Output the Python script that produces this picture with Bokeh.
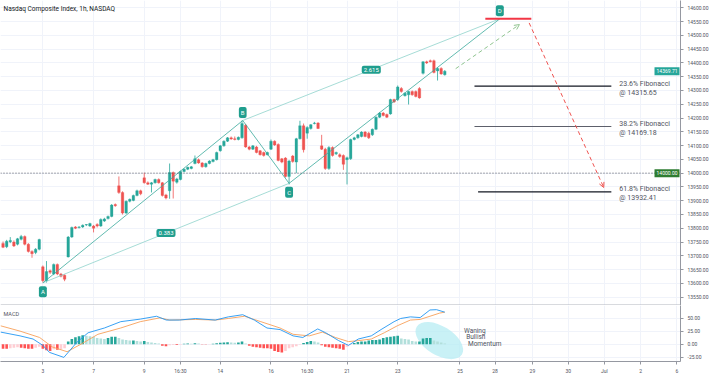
from bokeh.plotting import figure
from bokeh.layouts import column
from bokeh.models import (Range1d, FixedTicker, PrintfTickFormatter, Span, Label,
                          Arrow, OpenHead)
from bokeh.embed import file_html
from bokeh.resources import INLINE

# ---------------- data ----------------
first_bar = -11  # bar index of first visible hourly candle (0 = 3 Jun, 09:30)
opens = [13745, 13733, 13751, 13750, 13742, 13760, 13770, 13742, 13716, 13712, 13724,
         13660, 13610, 13646, 13634, 13669, 13634, 13630,
         13696, 13768, 13805, 13803, 13805, 13812, 13808,
         13808, 13814, 13808, 13826, 13835, 13843, 13886,
         13954, 13930, 13855, 13898, 13901, 13919, 13936,
         13983, 13965, 13960, 13965, 13977, 13965, 13921,
         13936, 14002, 13967, 13977, 14006, 14014, 14017,
         14035, 14049, 14037, 14023, 14035, 14042, 14049,
         14081, 14099, 14116, 14128, 14125, 14122, 14128,
         14174, 14095, 14087, 14095, 14081, 14075, 14067,
         14087, 14116, 14104, 14052, 14055, 13988, 14062,
         14040, 14125, 14172, 14145, 14162, 14180, 14182,
         14099, 14087, 14017, 14093, 14070, 14067, 14064,
         14049, 14052, 14122, 14128, 14133, 14149, 14145,
         14139, 14159, 14203, 14218, 14213, 14215, 14267,
         14267, 14307, 14281, 14284, 14296, 14296, 14307,
         14362, 14404, 14408, 14408, 14371, 14380, 14357]
highs = [13752, 13758, 13768, 13756, 13765, 13776, 13774, 13746, 13720, 13728, 13762,
         13665, 13681, 13650, 13672, 13672, 13638, 13633,
         13772, 13806, 13808, 13808, 13814, 13815, 13820,
         13812, 13818, 13836, 13838, 13846, 13888, 13890,
         13988, 13934, 13901, 13908, 13922, 13940, 13940,
         14002, 13970, 13968, 13980, 13981, 13968, 13925,
         14035, 14006, 13983, 14009, 14017, 14024, 14026,
         14064, 14053, 14040, 14038, 14047, 14052, 14078,
         14102, 14119, 14131, 14133, 14133, 14133, 14191,
         14178, 14099, 14102, 14099, 14084, 14078, 14078,
         14122, 14119, 14108, 14055, 14058, 14048, 14066,
         14128, 14190, 14180, 14170, 14178, 14186, 14185,
         14139, 14092, 14098, 14097, 14078, 14072, 14068,
         14060, 14125, 14132, 14142, 14152, 14153, 14150,
         14162, 14206, 14222, 14222, 14216, 14270, 14270,
         14318, 14312, 14293, 14298, 14300, 14300, 14312,
         14406, 14408, 14412, 14412, 14384, 14384, 14374]
lows = [13728, 13728, 13746, 13732, 13738, 13756, 13738, 13712, 13693, 13706, 13720,
        13603, 13603, 13634, 13630, 13630, 13622, 13608,
        13694, 13765, 13797, 13799, 13801, 13808, 13805,
        13785, 13803, 13805, 13823, 13832, 13840, 13878,
        13925, 13850, 13852, 13894, 13898, 13916, 13920,
        13962, 13957, 13930, 13962, 13962, 13915, 13905,
        13907, 13908, 13962, 13974, 14003, 14011, 14014,
        14032, 14034, 14020, 14020, 14032, 14039, 14046,
        14078, 14096, 14113, 14121, 14119, 14119, 14125,
        14092, 14083, 14084, 14072, 14064, 14060, 14064,
        14084, 14099, 14043, 14036, 13984, 13959, 14038,
        14000, 14122, 14075, 14125, 14158, 14177, 14160,
        14084, 14012, 14012, 14060, 14066, 14056, 14012,
        13959, 14048, 14119, 14125, 14130, 14130, 14124,
        14135, 14156, 14200, 14206, 14200, 14212, 14255,
        14262, 14292, 14278, 14249, 14281, 14275, 14270,
        14358, 14396, 14402, 14362, 14336, 14357, 14354]
closes = [13731, 13753, 13756, 13736, 13762, 13770, 13742, 13716, 13708, 13724, 13759,
          13610, 13643, 13640, 13669, 13634, 13626, 13615,
          13768, 13803, 13800, 13804, 13811, 13812, 13817,
          13800, 13808, 13832, 13834, 13843, 13884, 13882,
          13930, 13855, 13898, 13905, 13919, 13936, 13925,
          13965, 13960, 13965, 13977, 13965, 13919, 13910,
          14002, 13971, 13979, 14006, 14014, 14021, 14023,
          14052, 14037, 14023, 14035, 14044, 14049, 14075,
          14099, 14116, 14128, 14124, 14122, 14130, 14180,
          14095, 14087, 14099, 14075, 14067, 14064, 14075,
          14116, 14102, 14046, 14040, 13988, 14044, 14042,
          14125, 14172, 14085, 14166, 14176, 14182, 14162,
          14087, 14017, 14093, 14064, 14075, 14060, 14032,
          14056, 14122, 14128, 14139, 14149, 14133, 14128,
          14159, 14203, 14218, 14209, 14203, 14267, 14258,
          14313, 14296, 14290, 14296, 14284, 14278, 14273,
          14404, 14400, 14404, 14365, 14380, 14360, 14369.71]

hist = [-9, -9, -8, -7, -6, -7, -8, -9, -9, -7, -5,
        -9, -12, -13, -10, -11, -10, -8,
        5, 10, 13, 15, 17, 16, 15,
        14, 12, 11, 10, 12, 14, 14,
        12, 9, 8, 7, 7, 6, 5,
        6, 4, 3, 2, 1, -3, -4,
        -2, -1.5, -1.5, -1, 0.5, 1, 0.8,
        1.5, 1, -0.5, -0.8, -0.5, 0.5, 1.5,
        2.5, 3, 3.5, 3, 2.5, 3, 5,
        1, -3, -5, -6, -7, -8, -8,
        -9, -13, -15, -16, -13, -8, -6,
        -4, -1, 2, 4, 6, 5, 3,
        -2, -5, -6, -7, -8, -9, -11,
        -5, -1, 2, 4, 5, 5, 7,
        8, 8, 9, 12, 13, 14, 15,
        16, 11, 10, 9, 6, 5, 5,
        11, 12, 12, 7, 5, 3, 1]

macd_x = [-11.7, -6.3, -2.7, 0.0, 1.8, 5.8, 9.4, 12.5, 17.0, 21.5, 26.9, 31.4, 34.1,
          37.7, 42.2, 47.6, 51.2, 55.2, 58.4, 61.9, 65.5, 69.1, 71.8, 75.9, 78.1, 81.7,
          84.4, 87.1, 90.7, 93.4, 97.0, 98.8, 101.5, 104.2, 106.9, 108.7, 111.0]
macd_v = [23.2, 15.9, 9.8, -2.4, -15.8, -25.5, 3.6, 21.9, 31.0, 43.2, 48.1, 53.6, 46.3,
          46.3, 49.3, 46.3, 52.4, 56.6, 46.3, 31.0, 28.0, 15.9, 12.8, 29.2, 21.9, 6.7,
          -2.4, 9.8, 15.9, 28.0, 43.2, 49.3, 52.4, 51.1, 65.7, 66.3, 61.5]
sig_x = [-11.7, -6.3, -0.9, 2.6, 6.7, 10.7, 15.2, 21.5, 26.9, 32.3, 35.0, 42.2, 47.6,
         51.2, 55.7, 60.2, 65.5, 69.1, 73.6, 77.2, 80.8, 84.4, 87.1, 90.7, 94.3, 97.9,
         101.5, 104.2, 106.9, 109.6, 111.0]
sig_v = [35.3, 25.0, 12.8, -5.4, -14.6, 0.6, 18.9, 31.0, 43.2, 50.5, 46.3, 47.5, 46.3,
         49.3, 53.6, 43.2, 31.0, 18.9, 15.9, 23.1, 12.8, 4.9, 6.7, 9.8, 21.9, 35.3,
         46.3, 47.5, 53.6, 59.7, 61.5]

tick_pos = [0.0, 14.0, 28.0, 38.0, 49.0, 63.0, 73.0, 84.0, 98.0,
            115.2, 124.9, 135.2, 145.1, 155.1, 165.1, 175.1]
tick_labels = ["3", "7", "9", "16:30", "14", "16", "16:30", "21", "23",
               "25", "28", "29", "30", "Jul", "2", "6"]
price_ticks = [13550 + 50 * k for k in range(22)]
macd_ticks = [-25, 0, 25, 50]

pattern_names = ["A", "B", "C", "D"]
pattern_x = [0.0, 55.2, 68.0, 126.2]
pattern_p = [13602, 14191, 13963, 14560]
ratio_texts = ["0.383", "2.615"]

fib_names = ["23.6% Fibonacci", "38.2% Fibonacci", "61.8% Fibonacci"]
fib_levels = [14315.65, 14169.18, 13932.41]

last_price = 14369.71
ref_level = 14000.00
title_text = "Nasdaq Composite Index, 1h, NASDAQ"
note_lines = ["Waning", "Bullish", "Momentum"]

# ---------------- styling / layout ----------------
FONT = "Roboto"
UP, DOWN = "#26a69a", "#ef5350"
TXT = "#50535e"
GRID = "#f0f3fa"
AXC = "#9598a1"
TEAL = "#1f9e8e"

XR = Range1d(-11.7, 176.1)
YR = Range1d(13519.8, 14626.4)
MR = Range1d(-33.4, 74.3)

idx = list(range(first_bar, first_bar + len(opens)))


def style_right_axis(ax):
    ax.axis_line_color = AXC
    ax.major_tick_line_color = AXC
    ax.minor_tick_line_color = None
    ax.major_tick_out = 3
    ax.major_tick_in = 0
    ax.major_label_standoff = 4
    ax.major_label_text_font_size = "5px"
    ax.major_label_text_color = TXT
    ax.major_label_text_font = FONT
    ax.formatter = PrintfTickFormatter(format="%.2f")


p = figure(frame_width=680, frame_height=305, x_range=XR, y_range=YR,
           output_backend="svg", toolbar_location=None, y_axis_location="right",
           min_border_left=0, min_border_top=0, min_border_bottom=0, min_border_right=0)
p.outline_line_color = None
p.xaxis.visible = False
p.xgrid.ticker = FixedTicker(ticks=tick_pos)
p.yaxis.ticker = FixedTicker(ticks=price_ticks)
p.ygrid.ticker = FixedTicker(ticks=price_ticks)
p.xgrid.grid_line_color = GRID
p.ygrid.grid_line_color = GRID
style_right_axis(p.yaxis[0])

p.add_layout(Span(location=ref_level, dimension="width", line_color=TXT,
                  line_dash="1 2", line_width=1))

# candles
col = [UP if c >= o else DOWN for o, c in zip(opens, closes)]
body_bot = [min(o, c) for o, c in zip(opens, closes)]
body_top = [max(max(o, c), min(o, c) + 1.5) for o, c in zip(opens, closes)]
p.segment(x0=idx, y0=lows, x1=idx, y1=highs, line_color=col, line_width=0.8)
p.vbar(x=idx, bottom=body_bot, top=body_top, width=0.72, fill_color=col, line_color=col,
       line_width=0.3)

# ABCD pattern
p.segment(x0=[pattern_x[0], pattern_x[1]], y0=[pattern_p[0], pattern_p[1]],
          x1=[pattern_x[2], pattern_x[3]], y1=[pattern_p[2], pattern_p[3]],
          line_color="#8fd3cb", line_width=0.8)
p.line(pattern_x, pattern_p, line_color="#3aa99c", line_width=0.8)

for name, x, y in zip(pattern_names, pattern_x, pattern_p):
    off = 8 if name in ("B", "D") else -9
    p.add_layout(Label(x=x, y=y, text=name, text_align="center", text_baseline="middle",
                       y_offset=off, text_color="white", text_font_size="6px",
                       text_font=FONT, background_fill_color=TEAL, padding=2,
                       border_radius=2))

mid_pairs = [(0, 2), (1, 3)]
for t, (a, b) in zip(ratio_texts, mid_pairs):
    p.add_layout(Label(x=(pattern_x[a] + pattern_x[b]) / 2,
                       y=(pattern_p[a] + pattern_p[b]) / 2, text=t,
                       text_align="center", text_baseline="middle",
                       text_color="white", text_font_size="6px", text_font=FONT,
                       background_fill_color=TEAL, padding=2, border_radius=2))

# D level marker
p.segment(x0=[122.2], y0=[pattern_p[3]], x1=[134.9], y1=[pattern_p[3]],
          line_color="#f23645", line_width=2)

# projections
p.add_layout(Arrow(end=OpenHead(size=5, line_color="#8fc48f", line_width=1),
                   x_start=114.0, y_start=14379, x_end=131.6, y_end=14539,
                   line_color="#8fc48f", line_dash="4 3", line_width=1))
p.add_layout(Arrow(end=OpenHead(size=5, line_color="#ef5350", line_width=1),
                   x_start=134.3, y_start=14545, x_end=154.9, y_end=13948,
                   line_color="#ef5350", line_dash="4 3", line_width=1))

# Fibonacci levels
fib_x0 = [119.2, 119.2, 120.2]
fib_col = ["#131722", "#5d606b", "#131722"]
p.segment(x0=fib_x0, y0=fib_levels, x1=[157.0] * 3, y1=fib_levels,
          line_color=fib_col, line_width=1.2)
for name, lvl in zip(fib_names, fib_levels):
    p.add_layout(Label(x=159.2, y=lvl, text=name, text_baseline="middle", y_offset=2.5,
                       text_font_size="7px", text_font=FONT, text_color=TXT))
    p.add_layout(Label(x=159.2, y=lvl, text="@ %.2f" % lvl, text_baseline="middle",
                       y_offset=-6.5, text_font_size="7px", text_font=FONT,
                       text_color=TXT))

# title
p.add_layout(Label(x=XR.start, y=YR.end, text=title_text, x_offset=3, y_offset=-8,
                   text_baseline="middle", text_font_size="6.5px", text_font=FONT,
                   text_color="#131722"))

# price markers, placed against the price scale
for val, bg in [(last_price, "#26a69a"), (ref_level, "#2e7d32")]:
    p.add_layout(Label(x=XR.end, y=val, text="%.2f" % val, x_offset=-1,
                       text_align="right", text_baseline="middle",
                       text_font_size="5px", text_font=FONT, text_color="white",
                       background_fill_color=bg, padding=2))

# pane separator
p.add_layout(Span(location=YR.start, dimension="width", line_color="#b2b5be",
                  line_width=2))

# ---------------- MACD pane ----------------
m = figure(frame_width=680, frame_height=56, x_range=XR, y_range=MR,
           output_backend="svg", toolbar_location=None, y_axis_location="right",
           min_border_left=0, min_border_top=0, min_border_bottom=0, min_border_right=0)
m.outline_line_color = None
m.xgrid.grid_line_color = GRID
m.ygrid.grid_line_color = GRID
m.xgrid.ticker = FixedTicker(ticks=tick_pos)
m.yaxis.ticker = FixedTicker(ticks=macd_ticks)
m.ygrid.ticker = FixedTicker(ticks=macd_ticks)
style_right_axis(m.yaxis[0])
xa = m.xaxis[0]
xa.ticker = FixedTicker(ticks=tick_pos)
xa.major_label_overrides = {float(k): v for k, v in zip(tick_pos, tick_labels)}
xa.axis_line_color = AXC
xa.major_tick_line_color = AXC
xa.minor_tick_line_color = None
xa.major_tick_out = 3
xa.major_tick_in = 0
xa.major_label_standoff = 3
xa.major_label_text_font_size = "5px"
xa.major_label_text_color = TXT
xa.major_label_text_font = FONT

m.ellipse(x=[109.5], y=[6.8], width=53, height=29, width_units="screen",
          height_units="screen", angle=-0.55, fill_color="#b2ebf2", fill_alpha=0.7,
          line_color=None)

hcol = []
prev = None
for h in hist:
    if h >= 0:
        hcol.append("#26a69a" if (prev is None or h >= prev) else "#b2dfdb")
    else:
        hcol.append("#ff5252" if (prev is None or h <= prev) else "#ffcdd2")
    prev = h
m.vbar(x=idx, bottom=0, top=hist, width=0.72, fill_color=hcol, line_color=None)
m.line(sig_x, sig_v, line_color="#f7a05a", line_width=0.9)
m.line(macd_x, macd_v, line_color="#2196f3", line_width=0.9)

m.add_layout(Label(x=XR.start, y=MR.end, text="MACD", x_offset=3, y_offset=-8,
                   text_baseline="middle", text_font_size="5.5px", text_font=FONT,
                   text_color=TXT))
note_x = [116.3, 116.9, 117.4]
note_y = [25.0, 12.8, 0.7]
for t, x, y in zip(note_lines, note_x, note_y):
    m.add_layout(Label(x=x, y=y, text=t, text_baseline="middle", text_font_size="6.5px",
                       text_font=FONT, text_color=TXT))

layout = column(p, m, spacing=0)
open("out.html", "w").write(file_html(layout, INLINE))
